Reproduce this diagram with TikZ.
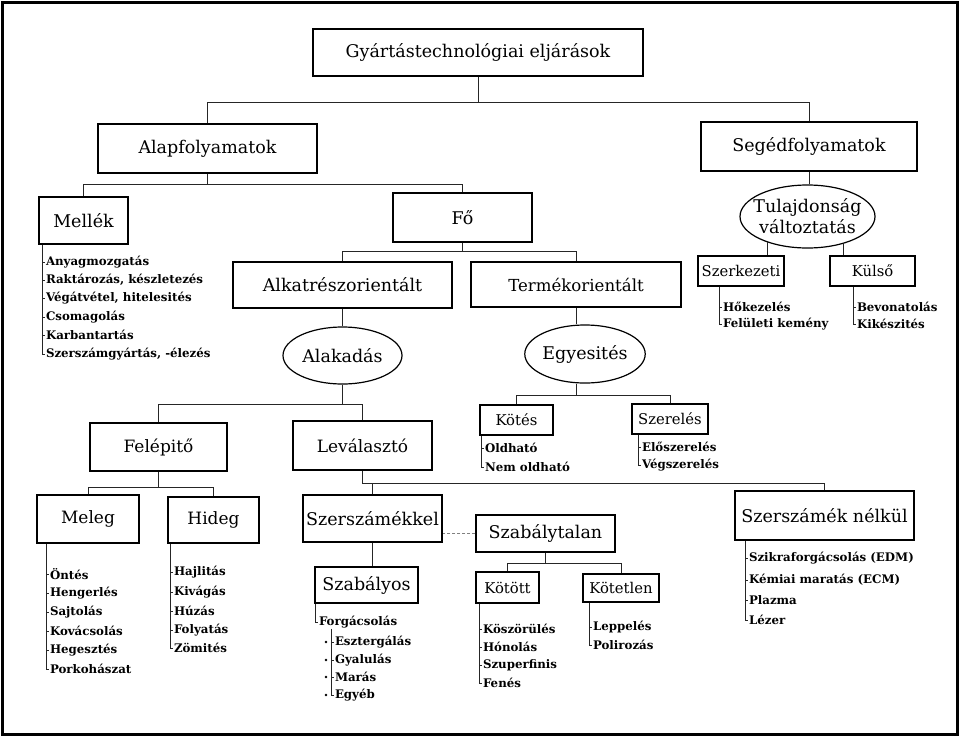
\documentclass[tikz,border=0pt]{standalone}
\usepackage{fontspec}
\setmainfont{DejaVu Serif}
\usetikzlibrary{shapes.geometric}
\tikzset{
  box/.style={draw, line width=1.5pt, rectangle, inner sep=0pt, font=\fontsize{17.5}{20}\selectfont},
  mbox/.style={box, font=\fontsize{17}{20}\selectfont},
  sbox/.style={box, font=\fontsize{14.8}{17}\selectfont},
  oval/.style={draw, ellipse, line width=1.2pt, inner sep=0pt, font=\fontsize{17.5}{20}\selectfont},
  lbl/.style={inner sep=0pt, align=center, font=\fontsize{17.5}{21}\selectfont},
  conn/.style={line width=0.9pt, black!85},
  item/.style={anchor=west, inner sep=0.5pt, outer xsep=3.5pt, font=\bfseries\fontsize{11.8}{13}\selectfont},
}
\begin{document}
\begin{tikzpicture}[x=1pt,y=-1pt]
\useasboundingbox (0,0) rectangle (960,739);
\draw[line width=3pt] (2.5,2.5) rectangle (957,734.5);

% boxes
\node[box, minimum width=330, minimum height=47] (top) at (478,52.5) {Gyártástechnológiai eljárások};
\node[box, minimum width=219, minimum height=49] (alap) at (207.5,148.5) {Alapfolyamatok};
\node[box, minimum width=216, minimum height=49] (seged) at (809,146.5) {Segédfolyamatok};
\node[box, minimum width=89, minimum height=47] (mellek) at (83.5,220.5) {Mellék};
\node[box, minimum width=139, minimum height=49] (fo) at (462.5,217.5) {Fő};
\node[box, minimum width=219, minimum height=46] (alkat) at (342.5,285) {Alkatrészorientált};
\node[box, minimum width=210, minimum height=45, font=\fontsize{16.6}{20}\selectfont] (termek) at (576,284.5) {Termékorientált};
\node[oval, minimum width=119, minimum height=57] (alakadas) at (342.5,355.5) {Alakadás};
\node[oval, minimum width=120, minimum height=58] (egyesites) at (585,354) {Egyesités};
\node[oval, minimum width=135, minimum height=63] (tulaj) at (807.5,216.5) {};
\node[lbl] (tulajtxt) at (tulaj.center) {Tulajdonság\\változtatás};
\node[sbox, minimum width=86, minimum height=30] (szerkezeti) at (741,271) {Szerkezeti};
\node[sbox, minimum width=85, minimum height=30] (kulso) at (872.5,271) {Külső};
\node[sbox, minimum width=73, minimum height=30] (kotes) at (516.5,420) {Kötés};
\node[sbox, minimum width=76, minimum height=30] (szereles) at (670,419) {Szerelés};
\node[mbox, minimum width=137, minimum height=48] (felepito) at (158.5,447) {Felépitő};
\node[mbox, minimum width=139, minimum height=49] (levalaszto) at (362.5,445.5) {Leválasztó};
\node[mbox, minimum width=102, minimum height=48] (meleg) at (88,519) {Meleg};
\node[mbox, minimum width=91, minimum height=46] (hideg) at (213.5,520) {Hideg};
\node[box, minimum width=139, minimum height=47] (szerszamekkel) at (372.5,518.5) {Szerszámékkel};
\node[box, minimum width=139, minimum height=37] (szabalytalan) at (545.5,533.5) {Szabálytalan};
\node[box, minimum width=103, minimum height=36] (szabalyos) at (366.5,585) {Szabályos};
\node[sbox, minimum width=63, minimum height=31] (kotott) at (507.5,587.5) {Kötött};
\node[sbox, minimum width=76, minimum height=28] (kotetlen) at (621,588) {Kötetlen};
\node[box, minimum width=179, minimum height=49] (nelkul) at (824.5,515.5) {Szerszámék nélkül};

% tree connectors
\draw[conn] (top.south) -- ++(0,25.5) coordinate (b1);
\draw[conn] (alap.north) |- (b1) -| (seged.north);
\draw[conn] (alap.south) -- ++(0,11) coordinate (b2);
\draw[conn] (mellek.north) |- (b2) -| (fo.north);
\draw[conn] (fo.south) -- ++(0,9) coordinate (b3);
\draw[conn] (alkat.north) |- (b3) -| (termek.north);
\draw[conn] (alkat.south) -- (alakadas.north);
\draw[conn] (termek.south) -- (termek.south |- egyesites.north);
\draw[conn] (alakadas.south) -- ++(0,20) coordinate (b4);
\draw[conn] (felepito.north) |- (b4) -| (levalaszto.north);
\draw[conn] (egyesites.south -| termek.south) -- ++(0,12) coordinate (b5);
\draw[conn] (kotes.north) |- (b5) -| (szereles.north);
\draw[conn] (felepito.south) -- ++(0,16) coordinate (b6);
\draw[conn] (meleg.north) |- (b6) -| (hideg.north);
\draw[conn] (levalaszto.south) -- ++(0,13) coordinate (b7) -| (nelkul.north);
\draw[conn] (szerszamekkel.north) -- (szerszamekkel.north |- b7);
\draw[conn, densely dashed, gray] (szabalytalan.west) -- (szabalytalan.west -| szerszamekkel.east);
\draw[conn] (szerszamekkel.south) -- (szerszamekkel.south |- szabalyos.north);
\draw[conn] (szabalytalan.south) -- ++(0,11) coordinate (b8);
\draw[conn] (kotott.north) |- (b8) -| (kotetlen.north);
\draw[conn] (seged.south) -- (seged.south |- tulaj.north);
\draw[conn] (tulaj.213) -- (tulaj.213 |- szerkezeti.north);
\draw[conn] (tulaj.323) -- (tulaj.323 |- kulso.north);

% Mellék list
\node[item] (m1) at (42,262) {Anyagmozgatás};
\node[item] (m2) at (42,280) {Raktározás, készletezés};
\node[item] (m3) at (42,298) {Végátvétel, hitelesités};
\node[item] (m4) at (42,317) {Csomagolás};
\node[item] (m5) at (42,335) {Karbantartás};
\node[item] (m6) at (42,354) {Szerszámgyártás, -élezés};
\draw[conn] (m1.west |- mellek.south) -- (m6.west);
\foreach \i in {1,...,6} \draw[conn] (m\i.west) -- ++(3,0);

% Szerkezeti list
\node[item] (sz1) at (719,307) {Hőkezelés};
\node[item] (sz2) at (719,324) {Felületi kemény};
\draw[conn] (sz1.west |- szerkezeti.south) -- (sz2.west);
\foreach \i in {1,2} \draw[conn] (sz\i.west) -- ++(3,0);

% Külső list
\node[item] (k1) at (853,307) {Bevonatolás};
\node[item] (k2) at (853,324) {Kikészités};
\draw[conn] (k1.west |- kulso.south) -- (k2.west);
\foreach \i in {1,2} \draw[conn] (k\i.west) -- ++(3,0);

% Kötés list
\node[item] (ko1) at (481,448) {Oldható};
\node[item] (ko2) at (481,467) {Nem oldható};
\draw[conn] (ko1.west |- kotes.south) -- (ko2.west);
\foreach \i in {1,2} \draw[conn] (ko\i.west) -- ++(3,0);

% Szerelés list
\node[item] (se1) at (638,447) {Előszerelés};
\node[item] (se2) at (638,465) {Végszerelés};
\draw[conn] (se1.west |- szereles.south) -- (se2.west);
\foreach \i in {1,2} \draw[conn] (se\i.west) -- ++(3,0);

% Meleg list
\node[item] (me1) at (46,574) {Öntés};
\node[item] (me2) at (46,593) {Hengerlés};
\node[item] (me3) at (46,612) {Sajtolás};
\node[item] (me4) at (46,631) {Kovácsolás};
\node[item] (me5) at (46,650) {Hegesztés};
\node[item] (me6) at (46,669) {Porkohászat};
\draw[conn] (me1.west |- meleg.south) -- (me6.west);
\foreach \i in {1,...,6} \draw[conn] (me\i.west) -- ++(3,0);

% Hideg list
\node[item] (h1) at (170,572) {Hajlitás};
\node[item] (h2) at (170,592) {Kivágás};
\node[item] (h3) at (170,611) {Húzás};
\node[item] (h4) at (170,630) {Folyatás};
\node[item] (h5) at (170,648) {Zömités};
\draw[conn] (h1.west |- hideg.south) -- (h5.west);
\foreach \i in {1,...,5} \draw[conn] (h\i.west) -- ++(3,0);

% Szabályos list
\node[item] (f1) at (315,622) {Forgácsolás};
\draw[conn] (f1.west |- szabalyos.south) -- (f1.west) -- ++(3,0);
\node[item] (e1) at (331,642) {Esztergálás};
\node[item] (e2) at (331,660) {Gyalulás};
\node[item] (e3) at (331,677) {Marás};
\node[item] (e4) at (331,695) {Egyéb};
\draw[conn] (e1.west |- f1.south) -- (e4.west);
\foreach \i in {1,...,4} {
  \draw[conn] (e\i.west) -- ++(3,0);
  \fill ([xshift=-5pt]e\i.west) circle (1.3pt);
}

% Kötött list
\node[item] (kt1) at (479,629) {Köszörülés};
\node[item] (kt2) at (479,647) {Hónolás};
\node[item] (kt3) at (479,665) {Szuperfinis};
\node[item] (kt4) at (479,683) {Fenés};
\draw[conn] (kt1.west |- kotott.south) -- (kt4.west);
\foreach \i in {1,...,4} \draw[conn] (kt\i.west) -- ++(3,0);

% Kötetlen list
\node[item] (kl1) at (589,627) {Leppelés};
\node[item] (kl2) at (589,645) {Polirozás};
\draw[conn] (kl1.west |- kotetlen.south) -- (kl2.west);
\foreach \i in {1,2} \draw[conn] (kl\i.west) -- ++(3,0);

% Szerszámék nélkül list
\node[item] (n1) at (745,558) {Szikraforgácsolás (EDM)};
\node[item] (n2) at (745,580) {Kémiai maratás (ECM)};
\node[item] (n3) at (745,600) {Plazma};
\node[item] (n4) at (745,620) {Lézer};
\draw[conn] (n1.west |- nelkul.south) -- (n4.west);
\foreach \i in {1,...,4} \draw[conn] (n\i.west) -- ++(3,0);
\end{tikzpicture}
\end{document}
